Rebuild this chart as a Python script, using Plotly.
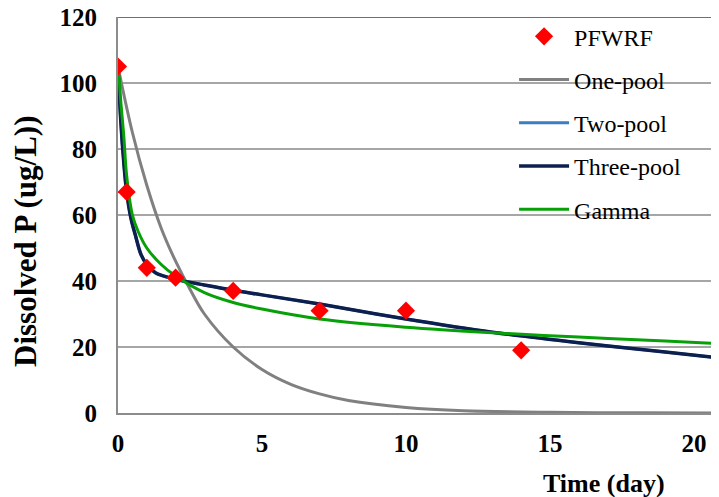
import plotly.graph_objects as go

# Observed data (PFWRF)
obs_t = [0, 0.3, 1, 2, 4, 7, 10, 14, 21]
obs_v = [105, 67, 44, 41, 37, 31, 31, 19, 17.6]

# One-pool model curve
one_t = [0, 0.5, 1, 1.5, 2, 2.5, 3, 4, 5, 6, 7, 8, 10, 12, 15, 18, 21]
one_v = [105, 85, 69, 56, 46, 37.5, 30, 20, 13.2, 8.7, 5.8, 3.8, 1.7, 0.7, 0.2, 0.05, 0.0]

# Two-pool model curve (hidden under three-pool)
two_t = [0, 0.1, 0.2, 0.3, 0.45, 0.6, 0.8, 1.0, 1.3, 1.6, 2, 3, 4, 5, 7, 10, 13, 16, 19, 21]
two_v = [105, 88, 76, 67, 59, 54, 48, 45, 42.5, 41.5, 40.5, 38.8, 37.2, 35.8, 33, 28.5, 24.5, 21.3, 18.5, 16.6]

# Three-pool model curve
three_t = [0, 0.1, 0.2, 0.3, 0.45, 0.6, 0.8, 1.0, 1.3, 1.6, 2, 3, 4, 5, 7, 10, 13, 16, 19, 21]
three_v = [105, 88, 76, 67, 59, 54, 48, 45, 42.5, 41.5, 40.5, 38.8, 37.2, 35.8, 33, 28.5, 24.5, 21.3, 18.5, 16.6]

# Gamma model curve
gam_t = [0, 0.05, 0.1, 0.2, 0.3, 0.5, 0.7, 1.0, 1.5, 2, 3, 4, 5, 7, 10, 13, 16, 19, 21]
gam_v = [105, 100, 94, 84, 72, 60, 55, 50, 45, 41.5, 36.5, 33.5, 31.5, 28.5, 26, 24.3, 23, 21.8, 21]

x_ticks = [0, 5, 10, 15, 20]
y_ticks = [0, 20, 40, 60, 80, 100, 120]

FONT = "Liberation Serif"

fig = go.Figure()
fig.add_trace(go.Scatter(x=one_t, y=one_v, mode="lines", name="One-pool", legendrank=2,
                         line=dict(color="#808080", width=3, shape="spline"), legendgroup="b"))
fig.add_trace(go.Scatter(x=two_t, y=two_v, mode="lines", name="Two-pool", legendrank=3,
                         line=dict(color="#3A7DC0", width=3, shape="spline"), legendgroup="c"))
fig.add_trace(go.Scatter(x=three_t, y=three_v, mode="lines", name="Three-pool", legendrank=4,
                         line=dict(color="#0C1F4E", width=3.5, shape="spline"), legendgroup="d"))
fig.add_trace(go.Scatter(x=gam_t, y=gam_v, mode="lines", name="Gamma", legendrank=5,
                         line=dict(color="#08A008", width=3, shape="spline"), legendgroup="e"))
fig.add_trace(go.Scatter(x=obs_t, y=obs_v, mode="markers", name="PFWRF", legendrank=1,
                         marker=dict(symbol="diamond", size=14, color="#FF0000"),
                         legendgroup="a"))

fig.update_layout(
    width=719, height=497,
    margin=dict(l=110, r=8, t=9, b=92, autoexpand=False),
    paper_bgcolor="white", plot_bgcolor="white",
    font=dict(family=FONT, color="black", size=24),
    showlegend=True,
    legend=dict(x=0.659, y=1.007, xanchor="left", yanchor="top",
                bgcolor="rgba(0,0,0,0)", font=dict(family=FONT, size=24),
                tracegroupgap=9, itemwidth=50, traceorder="grouped"),
    xaxis=dict(range=[0, 20.87], tickvals=x_ticks, ticktext=[f"<b>{v}</b>" for v in x_ticks],
               showgrid=False, zeroline=False,
               showline=True, linecolor="#8C8C8C", linewidth=2,
               ticks="outside", ticklen=7, tickcolor="rgba(0,0,0,0)",
               ticklabeloverflow="allow",
               tickfont=dict(family=FONT, size=25, color="black")),
    yaxis=dict(range=[0, 120], tickvals=y_ticks, ticktext=[f"<b>{v}</b>" for v in y_ticks],
               showgrid=True, gridcolor="#A6A6A6", gridwidth=1.5,
               zeroline=False, showline=True, linecolor="#8C8C8C", linewidth=2,
               ticks="outside", ticklen=14, tickcolor="rgba(0,0,0,0)",
               ticklabeloverflow="allow",
               tickfont=dict(family=FONT, size=25, color="black")),
    shapes=[dict(type="line", xref="paper", yref="y", x0=0, x1=1, y0=120, y1=120,
                 line=dict(color="#404040", width=1.5))],
    annotations=[
        dict(text="<b>Time (day)</b>", xref="paper", yref="paper", x=0.809, y=-0.177,
             xanchor="center", yanchor="middle", showarrow=False,
             font=dict(family=FONT, size=26, color="black")),
        dict(text="<b>Dissolved P (ug/L))</b>", xref="paper", yref="paper", x=-0.153, y=0.432,
             xanchor="center", yanchor="middle", showarrow=False, textangle=-90,
             font=dict(family=FONT, size=31, color="black")),
    ],
)

fig.write_html("out.html")
